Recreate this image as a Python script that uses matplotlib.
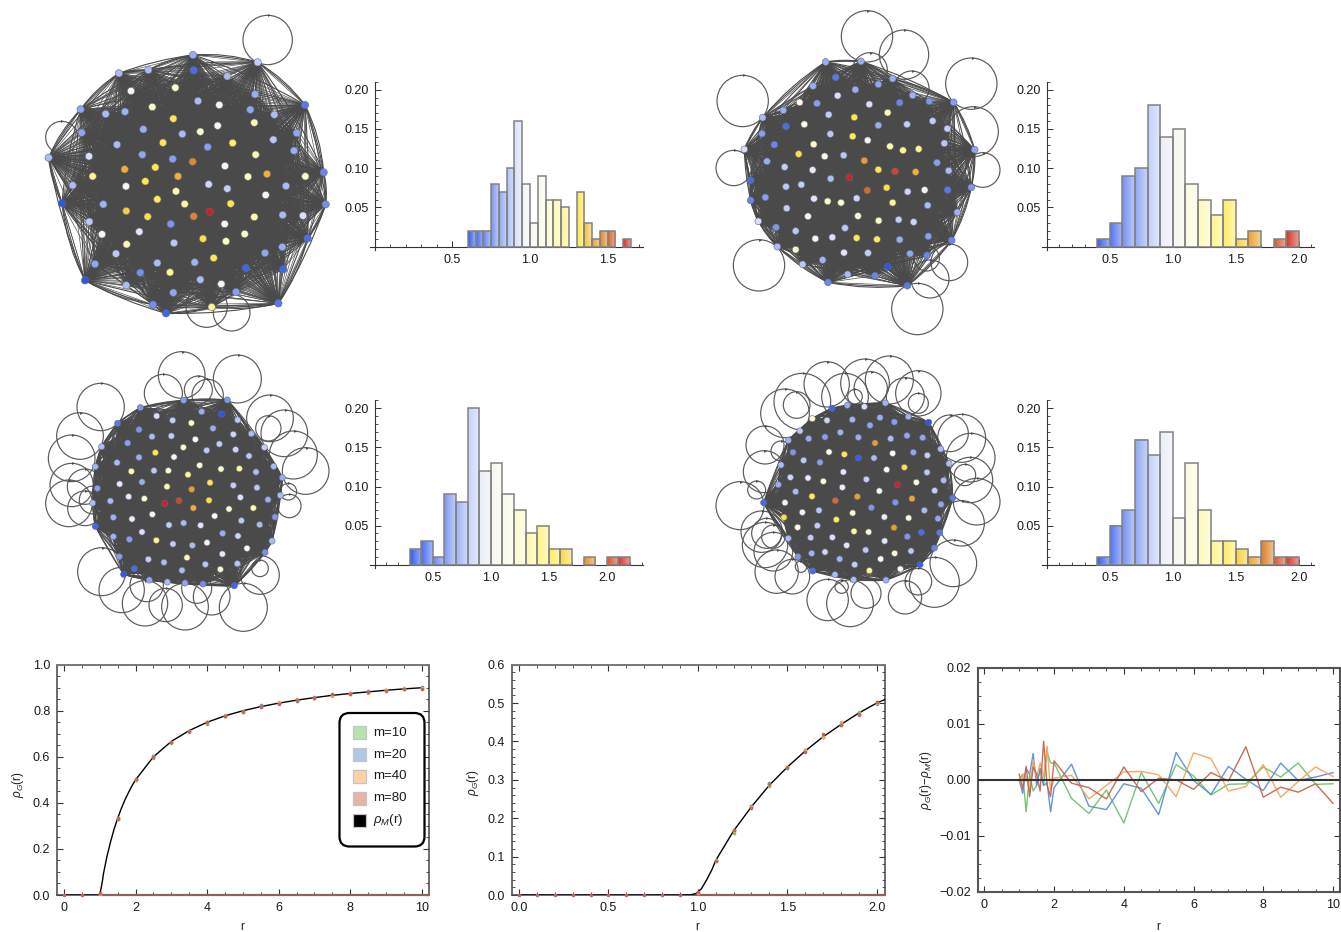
import numpy as np
import matplotlib
matplotlib.use("Agg")
import matplotlib.pyplot as plt
from matplotlib.collections import LineCollection, PathCollection
from matplotlib.colors import LinearSegmentedColormap, to_rgb
from matplotlib.patches import Circle, FancyBboxPatch, Rectangle
from matplotlib.path import Path
from matplotlib.ticker import MultipleLocator, FormatStrFormatter

plt.rcParams['font.family'] = ['Liberation Sans', 'DejaVu Sans']
plt.rcParams['mathtext.fontset'] = 'custom'
plt.rcParams['mathtext.rm'] = 'Liberation Sans'
plt.rcParams['mathtext.it'] = 'Liberation Sans:italic'

W, H = 1341, 932

# ---- network layouts: (x, y, eigenvalue modulus); first entries are the hull ----
tl_hull = [(489,135,.8),(683,157,.9),(825,285,.65),(881,487,.68),(887,583,.7),(833,685,.62),(745,880,.65),(545,891,1.3),(408,910,.6),(369,884,.7),(165,811,.55),(96,580,.55),(56,443,.85),(152,298,.78),(267,190,.85),(355,180,.85)]
tl_inner = [(491,181,.62),(592,199,.85),(675,253,.8),(303,243,1.05),(436,233,1.2),(504,273,.85),(568,285,1.05),(661,299,.78),(733,314,.85),(227,312,.85),(285,305,.82),(367,291,1.2),(430,326,1.4),(155,368,.78),(340,358,.8),(457,372,.85),(511,365,1.2),(563,347,1.05),(673,338,1.25),(800,369,.78),(730,389,.88),(261,404,.85),(399,398,1.4),(608,399,1.35),(533,411,.75),(792,422,.8),(177,439,.95),(337,434,.78),(428,447,.75),(488,455,1.6),(585,468,1.05),(677,434,1.25),(284,478,1.5),(376,472,1.4),(188,499,1.3),(444,499,1.5),(654,500,1.22),(711,492,1.5),(826,499,1.2),(128,526,.85),(288,529,1.05),(346,514,1.4),(536,523,.92),(592,536,.9),(768,528,.85),(438,544,1.25),(707,555,1.05),(382,568,1.38),(464,582,1.28),(602,581,1.4),(220,583,.82),(289,603,1.45),(353,620,1.42),(491,619,1.62),(539,605,1.95),(673,621,1.25),(758,615,.85),(819,617,.95),(178,635,.88),(422,642,.72),(584,642,1.05),(328,665,.98),(216,673,1.05),(644,672,1.2),(519,686,1.42),(588,694,1.22),(290,703,1.25),(432,699,.88),(757,711,.8),(705,729,.78),(258,731,.88),(551,744,1.4),(382,759,.85),(494,757,.82),(195,762,.78),(648,774,.6),(760,778,.6),(331,788,.7),(420,787,1.3),(511,809,.85),(289,826,.85),(574,822,1.05),(430,848,.78),(618,846,.75)]
tl_loops = [(713,90,74),(95,382,48),(530,890,62),(605,908,55)]

tr_hull = [(347,171,.8),(453,169,.8),(548,221,.8),(731,292,.75),(794,434,.78),(784,547,.72),(725,706,.68),(592,842,.65),(354,832,.68),(202,725,.85),(145,649,.95),(122,586,.68),(122,526,.62),(103,433,.95),(158,338,.85)]
tr_inner = [(377,217,.65),(309,243,.8),(436,254,.8),(505,238,.78),(383,272,.95),(269,292,1.15),(321,295,.75),(478,298,.95),(569,293,.68),(608,271,.82),(658,289,.72),(220,316,.8),(356,329,.9),(433,337,1.4),(533,323,1.25),(228,364,.62),(283,358,1.15),(505,361,.8),(591,358,.9),(668,348,.9),(712,371,.9),(156,386,.75),(361,387,.88),(428,394,1.38),(473,406,1.05),(193,419,.68),(311,418,1.2),(703,415,.88),(540,424,1.25),(579,436,1.3),(626,432,1.3),(266,447,1.42),(344,454,1.15),(401,451,.88),(171,469,.8),(463,467,1.55),(681,473,.75),(224,486,.9),(308,495,1.0),(505,494,1.4),(555,499,1.85),(617,501,1.5),(716,497,.85),(362,521,.85),(418,517,1.95),(228,545,.88),(274,539,.9),(530,548,1.42),(472,556,1.7),(593,560,.92),(644,555,1.1),(713,555,.65),(166,577,.75),(312,581,.98),(353,589,1.22),(393,593,1.2),(440,580,.92),(548,593,1.3),(653,601,.85),(230,610,.9),(742,622,.82),(294,634,1.1),(444,633,1.18),(506,647,1.22),(566,644,.9),(611,651,.92),(198,667,.72),(257,678,.88),(405,669,.88),(655,694,.75),(316,701,1.05),(367,697,.95),(440,699,1.4),(501,703,1.38),(569,704,.8),(257,734,1.2),(402,743,.98),(474,744,.9),(600,746,.78),(651,751,.68),(278,778,.88),(338,765,.82),(533,785,.55),(413,808,.85),(495,812,.68)]
tr_loops = [(471,94,77),(582,149,74),(784,236,77),(98,288,77),(71,489,53),(147,781,77),(622,912,77),(790,380,75),(818,495,52),(605,250,52),(480,195,52),(718,772,55),(660,822,57),(650,760,38)]

bl_hull = [(461,166,.75),(592,165,.72),(664,266,.85),(703,307,.9),(731,364,.85),(757,398,.8),(751,451,.85),(735,516,.72),(726,588,.85),(705,622,.7),(613,722,.6),(519,717,.7),(465,714,.78),(412,711,.85),(358,705,.78),(281,688,.55),(268,635,.75),(250,575,.82),(196,544,.6),(188,474,.85),(202,430,.75),(196,365,.82),(215,305,.85),(263,235,.65),(331,188,.72)]
bl_inner = [(515,200,.8),(575,207,.55),(380,213,.95),(428,226,.9),(484,234,1.22),(623,225,.88),(327,254,.72),(549,250,.8),(366,275,.85),(424,273,.9),(610,268,.92),(496,283,1.1),(293,294,.75),(568,297,.9),(460,307,1.2),(530,316,.88),(617,314,.92),(376,323,1.4),(432,336,1.05),(327,337,.8),(657,333,.88),(261,353,.85),(509,361,1.2),(573,372,1.22),(628,371,1.28),(304,379,1.25),(372,377,.88),(415,377,1.2),(474,389,1.3),(678,381,.85),(336,411,.8),(269,417,1.0),(540,413,1.4),(610,421,.9),(411,425,1.25),(681,428,.88),(485,433,1.55),(296,455,1.0),(343,461,1.2),(241,468,.85),(447,467,1.85),(404,475,2.0),(537,466,1.42),(631,457,.95),(714,464,.8),(490,489,1.5),(597,492,1.18),(670,489,1.25),(367,508,1.05),(306,522,1.02),(250,517,.82),(554,513,1.15),(634,527,.88),(689,539,.85),(417,540,.9),(461,534,.85),(512,541,.98),(336,561,.95),(578,565,.8),(624,573,.92),(298,583,.75),(379,586,1.32),(429,597,.9),(487,601,.85),(531,593,1.05),(651,610,1.1),(577,627,1.0),(471,638,1.25),(355,643,.9),(402,652,.85),(526,658,.88),(622,656,.88),(313,671,.62),(456,676,.85),(571,673,1.2)]
bl_loops = [(212,186,71),(150,273,70),(125,340,70),(125,420,65),(117,475,70),(165,425,53),(165,490,52),(190,465,42),(400,145,57),(455,90,70),(505,135,42),(533,150,47),(622,102,72),(720,220,70),(715,250,38),(763,265,70),(790,330,72),(827,378,70),(775,440,25),(778,483,35),(215,680,72),(275,735,68),(345,775,68),(350,720,50),(465,785,70),(407,780,50),(545,755,55),(500,730,45),(640,787,72),(690,690,58),(690,670,25)]

br_hull = [(381,190,.6),(427,181,.8),(478,185,.95),(541,174,.82),(610,215,.82),(671,232,.55),(707,312,.85),(732,356,.85),(743,459,.65),(704,563,.65),(688,609,.68),(645,659,.58),(543,705,.8),(446,704,.85),(390,689,.85),(323,678,.62),(279,635,.72),(250,580,.85),(176,473,.62),(220,419,.8),(228,360,.85),(250,286,.82),(285,258,.88),(322,221,1.2)]
br_inner = [(366,226,.92),(442,224,.82),(525,218,.8),(568,231,.75),(495,241,.78),(406,262,.82),(311,281,.8),(360,276,.75),(460,277,.8),(557,281,.85),(606,272,.78),(653,278,.78),(510,294,1.55),(264,322,.72),(372,321,1.15),(418,328,1.4),(563,325,1.1),(625,322,.78),(667,331,.9),(296,346,.88),(345,352,.75),(460,339,.58),(507,339,.85),(545,374,1.12),(598,367,1.42),(415,381,.98),(666,382,.88),(256,397,.92),(309,399,1.0),(355,409,1.2),(484,403,.9),(634,412,1.18),(716,406,.85),(577,419,1.95),(412,427,1.02),(523,438,1.05),(689,437,.9),(272,440,.85),(321,454,1.38),(457,455,1.55),(391,467,1.7),(621,461,1.52),(240,473,1.05),(571,472,.72),(708,478,.78),(499,488,.72),(292,502,1.05),(342,496,.88),(658,496,.85),(443,504,1.2),(538,516,1.02),(611,519,1.18),(237,517,1.42),(394,524,1.38),(699,521,.78),(337,542,.9),(278,547,1.12),(447,559,1.28),(491,561,1.2),(567,548,1.55),(649,562,.62),(607,575,.72),(317,578,.9),(382,577,.95),(539,588,.98),(425,601,.98),(482,615,.88),(360,621,.92),(320,625,.82),(618,618,.88),(569,625,1.18),(404,642,.82),(527,642,1.12),(449,659,.9),(493,677,1.3),(586,672,1.15)]
br_loops = [(240,205,73),(292,170,85),(365,118,68),(275,180,40),(480,115,73),(553,105,72),(497,130,50),(420,155,70),(640,145,68),(601,155,57),(640,175,30),(450,155,22),(735,265,55),(770,280,72),(797,338,73),(795,405,68),(815,470,70),(780,390,32),(770,535,68),(745,655,70),(688,712,75),(640,710,40),(600,757,50),(483,745,45),(435,775,70),(368,765,62),(410,725,20),(262,695,52),(215,680,65),(288,665,17),(170,560,62),(180,600,68),(185,565,45),(205,575,35),(205,620,58),(105,482,72),(155,435,27),(178,380,63),(180,300,57),(228,318,30)]

# ---- histograms: left bin edge, bin width, bar heights ----
tl_bins = [.6,.65,.7,.75,.8,.85,.9,.95,1.0,1.05,1.1,1.15,1.2,1.3,1.35,1.4,1.45,1.5,1.6]
tl_heights = [.02,.02,.02,.08,.07,.10,.16,.08,.03,.09,.06,.06,.05,.07,.03,.01,.02,.02,.01]
tr_bins = [.4,.5,.6,.7,.8,.9,1.0,1.1,1.2,1.3,1.4,1.5,1.6,1.8,1.9]
tr_heights = [.01,.03,.09,.10,.18,.14,.15,.08,.06,.04,.06,.01,.02,.01,.02]
bl_bins = [.3,.4,.5,.6,.7,.8,.9,1.0,1.1,1.2,1.3,1.4,1.5,1.6,1.8,2.0,2.1]
bl_heights = [.02,.03,.01,.09,.08,.20,.12,.13,.09,.07,.04,.05,.02,.02,.01,.01,.01]
br_bins = [.4,.5,.6,.7,.8,.9,1.0,1.1,1.2,1.3,1.4,1.5,1.6,1.7,1.8,1.9]
br_heights = [.01,.05,.07,.16,.14,.17,.06,.13,.07,.03,.03,.02,.01,.03,.01,.01]

# ---- spectral density ----
r_low = [0,.1,.2,.3,.4,.5,.6,.7,.8,.9]
r_grid = [1,1.1,1.2,1.3,1.4,1.5,1.6,1.7,1.8,1.9,2,2.5,3,3.5,4,4.5,5,5.5,6,6.5,7,7.5,8,8.5,9,9.5,10]
rho_grid = [.006,.09,.167,.23,.286,.333,.375,.412,.444,.474,.5,.6,.667,.714,.75,.778,.8,.818,.833,.846,.857,.867,.875,.882,.889,.895,.9]
r_foot = [0,.9,.96,.99,1.02,1.05,1.08]
rho_foot = [0,0,.0005,.004,.016,.04,.067]
diff_m10 = [0,.001,-.0057,.001,-.002,-.001,.002,-.001,.005,.003,.003,-.0033,-.006,-.0018,-.0077,.0013,-.0042,.0027,.0007,-.0027,-.0008,-.0007,.0023,.0005,.003,-.0008,-.0007]
diff_m20 = [0,-.0024,.002,.001,.0047,-.001,.002,-.001,-.0005,-.0057,-.0014,.0028,-.0047,-.0053,-.0007,-.0015,-.0062,.0049,-.0001,-.0026,.0024,.0001,-.0019,.003,-.0001,.0005,.0013]
diff_m40 = [-.0002,.001,.0005,-.002,.0035,.0005,.003,.0005,.006,-.002,.0003,.0008,-.0034,-.001,.0014,.0015,.0009,-.003,.0048,.0038,-.002,-.0012,.0027,-.0031,-.0003,.0023,.0006]
diff_m80 = [.001,-.0015,.0024,-.003,.0023,.001,-.002,.0069,-.001,-.003,.0034,-.0006,-.0014,-.0034,.0023,-.0021,.0003,0,-.0017,.0013,-.0002,.0059,-.0031,-.0013,-.0022,-.0007,-.0042]
legend_labels = ['m=10', 'm=20', 'm=40', 'm=80', r'$\rho_M$(r)']

series_colors = ['#6cc36c', '#5b8fd6', '#f5a55a', '#c8644f']
swatch_colors = ['#b2e3b0', '#afc8e8', '#fbd2a8', '#e8b4a8', '#000000']
DARK = '#4a4a4a'
TXT = '#1a1a1a'

anchors = [(.55,'#2f55ee'),(.62,'#4a6cf0'),(.7,'#7590f0'),(.78,'#8fa8f2'),(.85,'#aabdf5'),(.9,'#c3d0f8'),
           (.95,'#d8e0fa'),(1.05,'#f4f5f5'),(1.15,'#fbfbe8'),(1.22,'#fdfbc0'),(1.3,'#fff58e'),(1.4,'#ffe94a'),
           (1.5,'#f0b030'),(1.6,'#e08a2c'),(1.7,'#d96a28'),(1.85,'#d5452a'),(1.95,'#cf1f2a'),(2.0,'#cf1f2a')]
cmap = LinearSegmentedColormap.from_list('spec', [((a-.55)/1.45, c) for a, c in anchors])
def vcol(v):
    return cmap((np.asarray(v)-.55)/1.45)
def barcol(t):
    return vcol(np.interp(t, [0, .2, .36, .69, .83, 1], [.55, .75, 1.05, 1.4, 1.6, 1.95]))

fig = plt.figure(figsize=(W/100, H/100), dpi=100)

def px_axes(l, t, r, b):
    return fig.add_axes([l/W, 1-b/H, (r-l)/W, (b-t)/H])

def network(hull, inner, loops, x0, y0, w, h, s, lw, bulge):
    ax = px_axes(x0, y0, x0+w, y0+h)
    ax.set_xlim(0, w*3); ax.set_ylim(h*3, 0); ax.axis('off')
    nodes = np.array(hull+inner)
    pts = nodes[:, :2]
    n = len(pts)
    segs = [(pts[i], pts[j]) for i in range(n) for j in range(i+1, n)]
    ax.add_collection(LineCollection(segs, colors=DARK, linewidths=lw, zorder=1))
    c = pts.mean(axis=0)
    m = len(hull)
    paths = []
    for k, b in zip((1, 1, 2, 3), bulge):
        for i in range(m):
            p, q = pts[i], pts[(i+k) % m]
            mid = (p+q)/2
            d = mid-c
            d = d/np.linalg.norm(d)
            paths.append(Path([p, mid+d*b*np.linalg.norm(p-q), q], [Path.MOVETO, Path.CURVE3, Path.CURVE3]))
    ax.add_collection(PathCollection(paths, facecolors='none', edgecolors=DARK, linewidths=.8, zorder=1))
    for (cx, cy, r) in loops:
        ax.add_patch(Circle((cx, cy), r, fill=False, ec='#5a5a5a', lw=.85, zorder=.5, clip_on=False))
        ax.plot([cx+r*.05], [cy-r], marker='>', ms=2.0, color='#444444', mew=0, zorder=.6, clip_on=False)
    ax.scatter(pts[:, 0], pts[:, 1], s=s, c=vcol(nodes[:, 2]), edgecolors='#6a6a7a', linewidths=.4, zorder=3, clip_on=False)

def hist(bins, heights, width, xa, xb, ya, yb, right, top):
    # xa = pixel of r=.5, xb = pixel of r=1.0; ya = pixel of y=0, yb = pixel of y=.2
    ux = (xb-xa)/.5; uy = (ya-yb)/.2
    left_px = xa-.5*ux-5; bot_px = ya+3
    ax = px_axes(left_px, top, right, bot_px)
    xl = (.5+(left_px-xa)/ux, .5+(right-xa)/ux)
    yl = ((ya-bot_px)/uy, (ya-top)/uy)
    lo, hi = min(bins), max(bins)+width
    ramp = np.linspace(0, 1, 16)[:, None]
    for b, v in zip(bins, heights):
        t = ((b+width/2)-lo)/(hi-lo)
        base = np.array(to_rgb(barcol(t)))
        light = base*.5+.5
        grad = ramp*light[None, :]+(1-ramp)*base[None, :]
        ax.imshow(grad[None, :, :], extent=(b, b+width, 0, v), aspect='auto', zorder=2, interpolation='bilinear')
    ax.bar(bins, heights, width=width, align='edge', facecolor='none', edgecolor='#828285', linewidth=1.1, zorder=3)
    ax.set_xlim(*xl); ax.set_ylim(*yl)
    for sp in ('top', 'right'):
        ax.spines[sp].set_visible(False)
    ax.spines['left'].set_position(('data', 0)); ax.spines['bottom'].set_position(('data', 0))
    for sp in ('left', 'bottom'):
        ax.spines[sp].set_linewidth(.8); ax.spines[sp].set_color('#333333')
    ax.patch.set_alpha(0)
    ax.xaxis.set_minor_locator(MultipleLocator(.1))
    ax.yaxis.set_minor_locator(MultipleLocator(.01))
    ax.set_xticks([v for v in np.arange(.5, max(bins)+width+.3, .5) if v < xl[1]])
    ax.set_yticks([.05, .10, .15, .20])
    ax.set_xlim(*xl); ax.set_ylim(*yl)
    ax.xaxis.set_major_formatter(FormatStrFormatter('%.1f')); ax.yaxis.set_major_formatter(FormatStrFormatter('%.2f'))
    ax.tick_params(axis='x', which='major', direction='in', length=4, width=.7, labelsize=9, pad=5, colors='#333333', labelcolor=TXT)
    ax.tick_params(axis='y', which='major', direction='in', length=4, width=.7, labelsize=9, pad=4, colors='#333333', labelcolor=TXT)
    ax.tick_params(which='minor', direction='in', length=2, width=.6, colors='#333333')

def frame_axes(l, t, r, b, xlim, ylim, xmaj, xmin, ymaj, ymin, fmtx, fmty, ylabel, ylabx, xlabx, labely):
    ax = px_axes(l, t, r, b)
    ax.set_xlim(*xlim); ax.set_ylim(*ylim)
    ax.xaxis.set_major_locator(MultipleLocator(xmaj)); ax.xaxis.set_minor_locator(MultipleLocator(xmin))
    ax.yaxis.set_major_locator(MultipleLocator(ymaj)); ax.yaxis.set_minor_locator(MultipleLocator(ymin))
    ax.xaxis.set_major_formatter(FormatStrFormatter(fmtx))
    ax.yaxis.set_major_formatter(lambda v, p: (fmty % v).replace('-', '\u2212'))
    ax.tick_params(which='major', direction='in', length=4, width=.8, top=True, right=True, labelsize=9, pad=5, colors='#333333', labelcolor=TXT)
    ax.tick_params(which='minor', direction='in', length=2, width=.6, top=True, right=True, colors='#333333')
    for sp in ax.spines.values():
        sp.set_linewidth(1.1); sp.set_color('#444444')
    ax.spines['top'].set_color('#777777'); ax.spines['top'].set_linewidth(1.4)
    fig.text(ylabx/W, 1-labely/H, ylabel, rotation=90, ha='center', va='center', fontsize=8.5, color=TXT)
    fig.text(xlabx/W, 1-927/H, 'r', ha='center', va='center', fontsize=8.5, color=TXT)
    return ax

# ---- networks ----
network(tl_hull, tl_inner, tl_loops, 30, 10, 310, 320, 28, .45, (.05, .10, .06, .03))
network(tr_hull, tr_inner, tr_loops, 710, 5, 310, 335, 24, .5, (.04, .08, .05, .03))
network(bl_hull, bl_inner, bl_loops, 30, 345, 310, 295, 20, .6, (.03, .06, .05, .03))
network(br_hull, br_inner, br_loops, 705, 345, 310, 295, 20, .6, (.03, .06, .05, .03))

# ---- histograms ----
hist(tl_bins, tl_heights, .05, 452.3, 530, 246.7, 89.7, 643, 81.7)
hist(tr_bins, tr_heights, .1, 1109.7, 1172.7, 246.7, 89.7, 1314, 81.7)
hist(bl_bins, bl_heights, .1, 432.7, 490.7, 564.7, 408.3, 642.7, 400)
hist(br_bins, br_heights, .1, 1109.7, 1172.7, 564.7, 408.3, 1314, 400)

# ---- bottom panels ----
rg = np.array(r_grid)
rho = np.array(rho_grid)
diffs = [np.array(d) for d in (diff_m10, diff_m20, diff_m40, diff_m80)]
keep = rg >= 1.1
r_curve = np.concatenate([r_foot, rg[keep]])
rho_curve = np.concatenate([rho_foot, rho[keep]])

ax1 = frame_axes(57.3, 664.7, 429.3, 895, (-.187, 10.21), (0, 1), 2, .5, .2, .05, '%d', '%.1f', r'$\rho_G$(r)', 18, 242, 785)
ax1.plot(r_curve, rho_curve, color='black', lw=1.0, zorder=3)
ax1.plot([1, 10.21], [0, 0], color='#8a6458', lw=1.6, zorder=3, clip_on=False)
half = np.isclose((rg*2) % 1, 0)
for d, c in zip(diffs, series_colors):
    ax1.plot(rg[half], (rho+d)[half], ls='', marker='o', ms=2.6, color=c, mew=0, zorder=4)
ax1.plot([0, .5], [0, 0], ls='', marker='o', ms=2.6, color=series_colors[3], mew=0, zorder=4, clip_on=False)

ax2 = frame_axes(512, 664.7, 884.7, 895, (-.039, 2.045), (0, .6), .5, .1, .1, .02, '%.1f', '%.1f', r'$\rho_G$(r)', 473, 697, 783)
ax2.plot(r_curve, rho_curve, color='black', lw=1.0, zorder=3)
ax2.plot([1, 2.045], [0, 0], color='#8a6458', lw=1.6, zorder=3, clip_on=False)
upto2 = rg <= 2
for d, c in zip(diffs, series_colors):
    ax2.plot(rg[upto2], (rho+d)[upto2], ls='', marker='o', ms=2.6, color=c, mew=0, zorder=4, clip_on=False)
ax2.plot(r_low, np.zeros(len(r_low)), ls='', marker='o', ms=2.6, color=series_colors[3], mew=0, zorder=4, clip_on=False)

ax3 = frame_axes(977.7, 667.7, 1340, 892, (-.19, 10.2), (-.02, .02), 2, .5, .01, .0025, '%d', '%.2f', r'$\rho_G$(r)$-\rho_M$(r)', 926, 1158, 780)
for sp in ax3.spines.values():
    sp.set_linewidth(1.5); sp.set_color('#555555')
for d, c in zip(diffs, series_colors):
    ax3.plot(rg, d, color=c, lw=1.0, alpha=.95, zorder=2)
ax3.axhline(0, color='#333333', lw=1.5, zorder=3)

# legend
ov = fig.add_axes([0, 0, 1, 1]); ov.set_xlim(0, W); ov.set_ylim(H, 0); ov.axis('off')
ov.add_patch(FancyBboxPatch((339.5, 713), 85, 133.5, boxstyle='round,pad=0,rounding_size=10', fc='white', ec='black', lw=1.6))
for y, c, lab in zip((732.7, 754.7, 776, 798, 820), swatch_colors, legend_labels):
    ov.add_patch(Rectangle((353.5, y-6.5), 13, 13, fc=c, ec='#c4c4c4', lw=.9))
    ov.text(373, y, lab, va='center', ha='left', fontsize=9.5, color=TXT)

fig.savefig('out.png', dpi=100)
